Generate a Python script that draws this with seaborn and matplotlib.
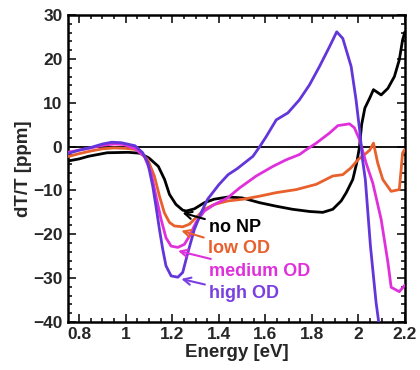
import numpy as np
import pandas as pd
import matplotlib
matplotlib.use("Agg")
import matplotlib.pyplot as plt
from matplotlib.ticker import MultipleLocator
import seaborn as sns

# Photon energy [eV] and differential transmission dT/T [ppm] per sample
e_no_np = [0.75, 0.80, 0.84, 0.92, 1.01, 1.06, 1.10, 1.14, 1.167, 1.188, 1.216, 1.245,
           1.26, 1.295, 1.338, 1.38, 1.44, 1.50, 1.576, 1.647, 1.717, 1.79, 1.847,
           1.89, 1.926, 1.948, 1.976, 1.993, 2.005, 2.014, 2.028, 2.049, 2.065,
           2.098, 2.127, 2.155, 2.176, 2.19, 2.2]
v_no_np = [-3.3, -2.8, -2.2, -1.4, -1.3, -1.5, -2.6, -4.5, -7.5, -10.9, -13.2, -14.5,
           -14.7, -14.2, -12.8, -12.0, -11.5, -11.7, -12.8, -13.6, -14.3, -14.8, -15.0,
           -14.3, -12.4, -10.5, -7.5, -3.7, 0.0, 5.0, 8.8, 11.1, 13.0,
           11.8, 13.3, 16.0, 19.8, 24.3, 26.2]

e_low = [0.75, 0.80, 0.85, 0.90, 0.95, 1.0, 1.05, 1.095, 1.123, 1.145, 1.166, 1.188,
         1.209, 1.245, 1.274, 1.302, 1.338, 1.381, 1.438, 1.504, 1.576, 1.647, 1.733,
         1.819, 1.89, 1.933, 1.969, 1.998, 2.027, 2.049, 2.065, 2.083, 2.105, 2.141,
         2.176, 2.184, 2.19, 2.198]
v_low = [-2.3, -1.6, -1.0, -0.5, -0.3, -0.4, -0.7, -3.0, -6.7, -11.3, -15.1, -17.3,
         -18.1, -18.3, -17.7, -16.2, -14.3, -13.2, -12.4, -12.0, -11.3, -10.5, -9.8,
         -8.6, -6.7, -6.4, -4.8, -3.0, -1.8, -0.8, 0.8, -3.7, -7.5, -10.2,
         -9.8, -5.2, -1.5, -0.7]

e_med = [0.75, 0.80, 0.85, 0.90, 0.95, 0.99, 1.038, 1.08, 1.109, 1.13, 1.152, 1.173,
         1.195, 1.224, 1.252, 1.274, 1.302, 1.338, 1.381, 1.438, 1.49, 1.561, 1.633,
         1.69, 1.747, 1.776, 1.819, 1.876, 1.912, 1.962, 1.983, 2.005, 2.033, 2.062,
         2.098, 2.127, 2.141, 2.176, 2.2]
v_med = [-1.3, -0.8, -0.3, 0.3, 0.6, 0.5, -0.4, -2.2, -6.0, -11.3, -16.6, -20.8,
         -22.7, -23.0, -22.3, -20.4, -17.3, -14.7, -13.2, -11.7, -9.4, -6.7, -4.5,
         -3.0, -1.8, -0.7, 0.8, 3.1, 4.8, 5.2, 4.3, 1.6, -3.7, -8.3,
         -16.6, -26.4, -32.1, -33.1, -31.6]

e_high = [0.75, 0.80, 0.85, 0.90, 0.94, 0.98, 1.04, 1.073, 1.095, 1.116, 1.13, 1.145,
          1.159, 1.173, 1.195, 1.224, 1.245, 1.267, 1.295, 1.324, 1.352, 1.40, 1.44,
          1.48, 1.547, 1.576, 1.604, 1.647, 1.697, 1.747, 1.79, 1.833, 1.876, 1.907,
          1.933, 1.969, 1.99, 2.007, 2.018, 2.03, 2.052, 2.076, 2.095]
v_high = [-1.6, -0.8, -0.2, 0.6, 1.0, 0.9, 0.2, -1.4, -3.7, -9.0, -13.6, -18.9,
          -23.4, -27.2, -29.5, -29.8, -28.7, -24.2, -18.9, -15.1, -12.0, -8.7, -6.4,
          -5.0, -2.2, 0.0, 2.3, 6.1, 7.7, 10.7, 14.1, 18.3, 22.8, 26.2,
          24.7, 18.3, 10.7, 3.1, -3.0, -7.5, -22.7, -35.5, -43.0]

labels = ["no NP", "low OD", "medium OD", "high OD"]
line_colors = ["#000000", "#E8602C", "#E030DC", "#6236D8"]
text_colors = ["#000000", "#E8602C", "#E030DC", "#7A3FE0"]
# Arrow tips (curve minima) and label anchors, in data units
tips = [(1.244, -15.1), (1.239, -19.2), (1.225, -23.8), (1.239, -30.2)]
anchors = [(1.36, -18.5), (1.355, -23.2), (1.36, -28.4), (1.36, -33.6)]

sns.set_theme(style="ticks")
plt.rcParams["font.family"] = ["Liberation Sans", "DejaVu Sans"]
plt.rcParams["font.weight"] = "bold"

fig = plt.figure(figsize=(4.2, 3.7), dpi=100)
ax = fig.add_axes([0.162, 0.130, 0.802, 0.829])

series = [(e_no_np, v_no_np), (e_low, v_low), (e_med, v_med), (e_high, v_high)]
frames = []
for (e, v), lab in zip(series, labels):
    frames.append(pd.DataFrame({"Energy": e, "dTT": v, "sample": lab}))
df = pd.concat(frames, ignore_index=True)

ax.axhline(0, color="black", lw=1.3, zorder=1)
sns.lineplot(data=df, x="Energy", y="dTT", hue="sample", hue_order=labels,
             palette=line_colors, estimator=None, sort=False, lw=2.0,
             legend=False, ax=ax, zorder=3)

for lab, tip, anc, c in zip(labels, tips, anchors, text_colors):
    ax.annotate(lab, xy=tip, xytext=anc, color=c, fontsize=13,
                fontweight="bold", ha="left", va="center",
                arrowprops=dict(arrowstyle="->", color=c, lw=1.5,
                                shrinkA=1, shrinkB=0))

ax.set_xlim(0.752, 2.2)
ax.set_ylim(-40, 30)
ax.xaxis.set_major_locator(MultipleLocator(0.2))
ax.xaxis.set_minor_locator(MultipleLocator(0.05))
ax.yaxis.set_major_locator(MultipleLocator(10))
ax.yaxis.set_minor_locator(MultipleLocator(2))
ax.set_xticks([0.8, 1.0, 1.2, 1.4, 1.6, 1.8, 2.0, 2.2])
ax.set_xticklabels(["0.8", "1", "1.2", "1.4", "1.6", "1.8", "2", "2.2"])
ax.tick_params(which="both", direction="in", top=True, right=True,
               width=1.3, labelsize=12.5, pad=4)
ax.tick_params(which="major", length=6)
ax.tick_params(which="minor", length=3)
for lbl in ax.get_xticklabels() + ax.get_yticklabels():
    lbl.set_fontweight("bold")
for sp in ax.spines.values():
    sp.set_linewidth(1.8)
    sp.set_color("black")

ax.set_xlabel("Energy [eV]", fontsize=13.5, fontweight="bold", labelpad=1)
ax.set_ylabel("dT/T [ppm]", fontsize=13.5, fontweight="bold", labelpad=1)

fig.savefig("out.png", dpi=100)
